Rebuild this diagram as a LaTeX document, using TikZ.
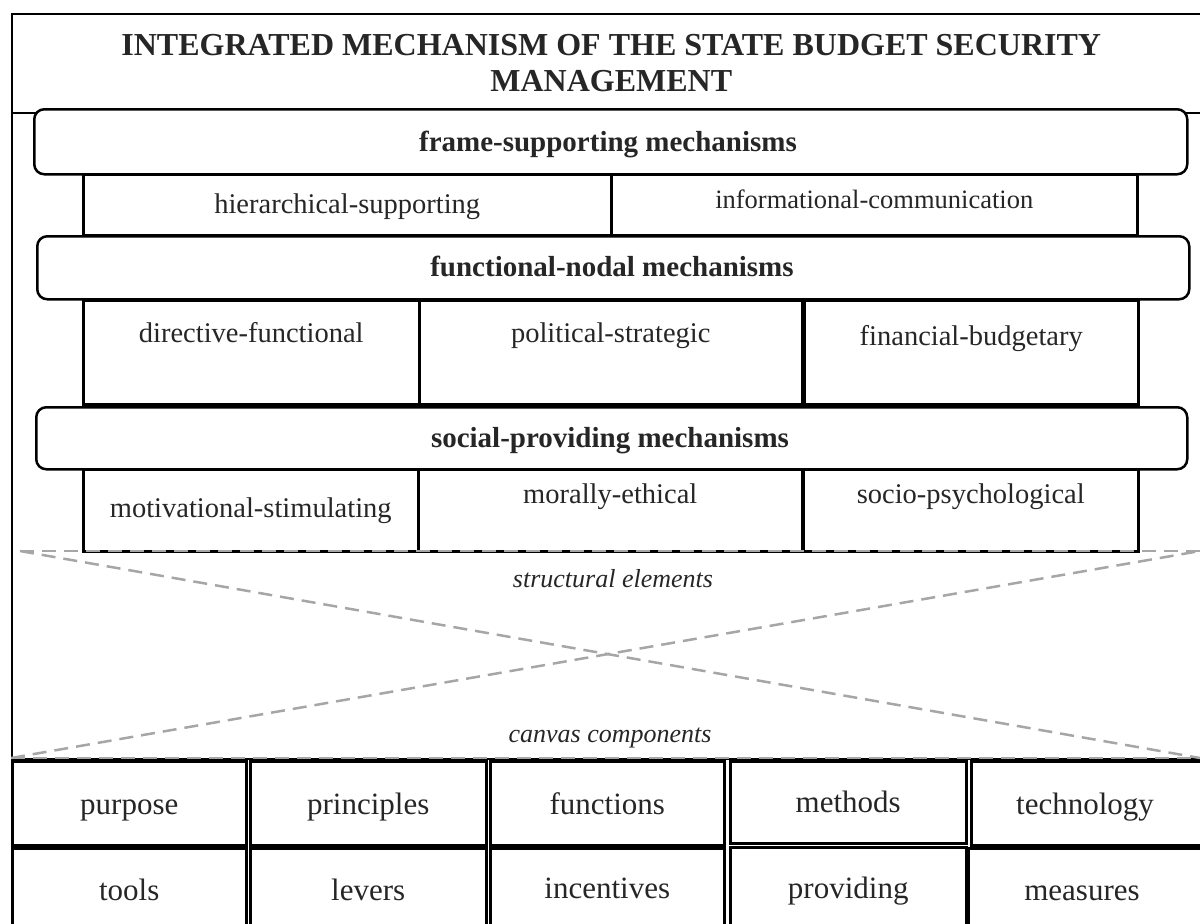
\documentclass[tikz,border=0pt]{standalone}
\usepackage{fontspec}
\setmainfont{Liberation Serif}

\tikzset{
  frame/.style={draw, line width=1.5pt, inner sep=0pt, anchor=north west},
  mech/.style={draw, rounded corners=10pt, line width=2.5pt, fill=white, inner sep=0pt, anchor=north west},
  cell/.style={draw, line width=2.5pt, inner sep=0pt, anchor=north west},
  cut/.style={draw=gray!70, line width=2.5pt, dash pattern=on 14pt off 8pt},
  txt/.style={anchor=base, inner sep=0pt, text=black!85, font=\fontsize{28.5}{34}\selectfont},
  head/.style={txt, font=\fontsize{29}{34}\selectfont\bfseries},
  note/.style={txt, font=\fontsize{26}{30}\selectfont\itshape},
  item/.style={txt, font=\fontsize{31}{36}\selectfont}
}

\begin{document}
\begin{tikzpicture}[x=1pt, y=-1pt]

        \useasboundingbox (0,0) rectangle (1200,924);

        % outer frame and title
        \node[frame, minimum width=1199pt, minimum height=745pt] (outer) at (11,13) {};
        \node[frame, minimum width=1199pt, minimum height=99pt, align=center, text=black!85,
              font=\fontsize{32}{36}\selectfont\bfseries] (title) at (11,13)
              {INTEGRATED MECHANISM OF THE STATE BUDGET SECURITY\\MANAGEMENT};

        % frame-supporting
        \node[mech, minimum width=1153pt, minimum height=65pt] (fsm) at (33,108) {};
        \node[head] (fsm-t) at (608,151) {frame-supporting mechanisms};
        \node[cell, minimum width=528pt, minimum height=61pt] (hs) at (82,173) {};
        \node[cell, minimum width=526pt, minimum height=61pt] (ic) at (610,173) {};
        \node[txt] (hs-t) at (hs.center |- 0,213) {hierarchical-supporting};
        \node[txt, font=\fontsize{26.5}{30}\selectfont] (ic-t) at (ic.center |- 0,208) {informational-communication};

        % functional-nodal
        \node[mech, minimum width=1152pt, minimum height=63pt] (fnm) at (36,235) {};
        \node[head] (fnm-t) at (612,276) {functional-nodal mechanisms};
        \node[cell, minimum width=336pt, minimum height=104pt] (df) at (82,299) {};
        \node[cell, minimum width=383pt, minimum height=104pt] (ps) at (418,299) {};
        \node[cell, minimum width=334pt, minimum height=104pt] (fb) at (803,299) {};
        \node[txt] (df-t) at (df.center |- 0,342) {directive-functional};
        \node[txt] (ps-t) at (ps.center |- 0,342) {political-strategic};
        \node[txt] (fb-t) at (fb.center |- 0,345) {financial-budgetary};

        % social-providing
        \node[mech, minimum width=1151pt, minimum height=62pt] (spm) at (35,406) {};
        \node[head] (spm-t) at (610,447) {social-providing mechanisms};
        \node[cell, minimum width=335pt, minimum height=82pt] (ms) at (82,468) {};
        \node[cell, minimum width=384pt, minimum height=82pt] (me) at (417,468) {};
        \node[cell, minimum width=335pt, minimum height=82pt] (sp) at (802,468) {};
        \node[txt] (ms-t) at (ms.center |- 0,517) {motivational-stimulating};
        \node[txt] (me-t) at (me.center |- 0,503) {morally-ethical};
        \node[txt] (sp-t) at (sp.center |- 0,503) {socio-psychological};

        % structural elements / canvas components
        \coordinate (sl) at (20,551);
        \coordinate (sr) at (1200,551);
        \coordinate (cl) at (11,758);
        \coordinate (cr) at (1200,758);
        \draw[cut] (sl) -- (sr);
        \draw[cut] (sl) -- (cr);
        \draw[cut] (cl) -- (sr);
        \draw[cut] (cl) -- (cr);
        \node[note] (se) at (613,587) {structural elements};
        \node[note] (cc) at (610,742) {canvas components};

        % components
        \node[cell, minimum width=234pt, minimum height=84pt] (purpose) at (11,760) {};
        \node[cell, minimum width=236pt, minimum height=84pt] (principles) at (249,760) {};
        \node[cell, minimum width=234pt, minimum height=84pt] (functions) at (489,760) {};
        \node[cell, minimum width=236pt, minimum height=82pt] (methods) at (729,760) {};
        \node[cell, minimum width=240pt, minimum height=84pt] (technology) at (970,760) {};
        \node[cell, minimum width=234pt, minimum height=83pt] (tools) at (11,847) {};
        \node[cell, minimum width=236pt, minimum height=83pt] (levers) at (249,847) {};
        \node[cell, minimum width=234pt, minimum height=83pt] (incentives) at (489,847) {};
        \node[cell, minimum width=236pt, minimum height=84pt] (providing) at (729,846) {};
        \node[cell, minimum width=243pt, minimum height=83pt] (measures) at (967,847) {};

        \node[item] (purpose-t) at (purpose.center |- 0,814) {purpose};
        \node[item] (principles-t) at (principles.center |- 0,814) {principles};
        \node[item] (functions-t) at (functions.center |- 0,814) {functions};
        \node[item] (methods-t) at (methods.center |- 0,812) {methods};
        \node[item] (technology-t) at (1085,814) {technology};
        \node[item] (tools-t) at (tools.center |- 0,900) {tools};
        \node[item] (levers-t) at (levers.center |- 0,900) {levers};
        \node[item] (incentives-t) at (incentives.center |- 0,898) {incentives};
        \node[item] (providing-t) at (providing.center |- 0,898) {providing};
        \node[item] (measures-t) at (1082,900) {measures};

\end{tikzpicture}
\end{document}
